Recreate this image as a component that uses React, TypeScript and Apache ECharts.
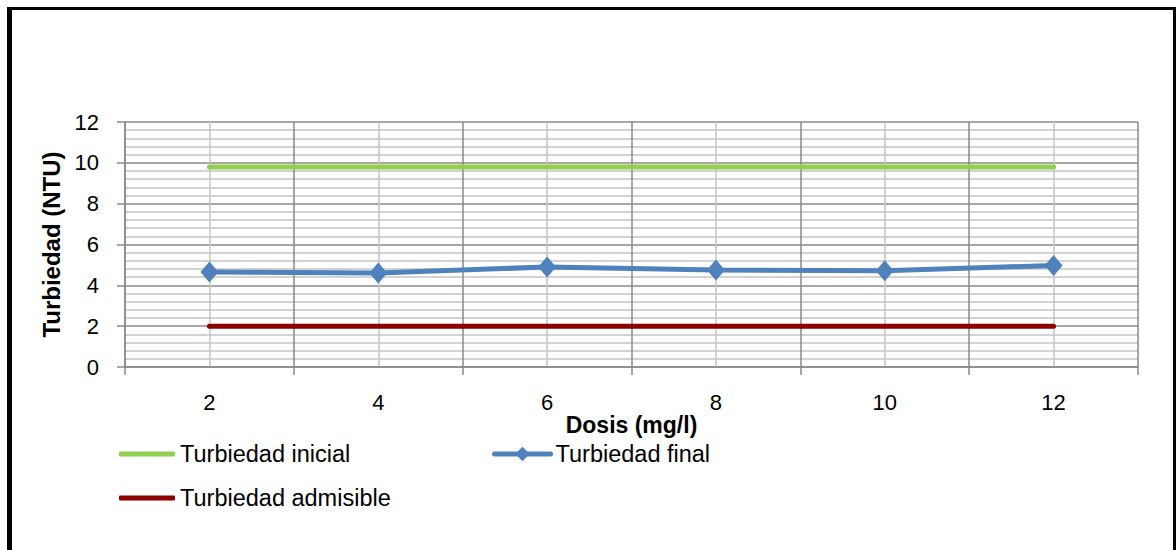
import React, { useEffect, useRef } from "react";
import * as echarts from "echarts";

const categories = ["2", "4", "6", "8", "10", "12"];
const turbiedadInicial = [9.8, 9.8, 9.8, 9.8, 9.8, 9.8];
const turbiedadFinal = [4.65, 4.6, 4.9, 4.75, 4.72, 4.97];
const turbiedadAdmisible = [2, 2, 2, 2, 2, 2];
const yTicks = { min: 0, max: 12, interval: 2 };

const FONT = "'Liberation Sans', Arial, sans-serif";
const MAJOR = "#8a8a8a";
const MINOR = "#c4c4c4";

export default function App() {
  const ref = useRef<HTMLDivElement>(null);
  useEffect(() => {
    if (!ref.current) return;
    const chart = echarts.init(ref.current, undefined, { renderer: "svg" });
    const legendText = { fontFamily: FONT, fontSize: 23.5, color: "#000" };
    chart.setOption({
      animation: false,
      backgroundColor: "#fff",
      graphic: [
        { type: "rect", shape: { x: 7, y: 7, width: 5, height: 543 }, style: { fill: "#000" } },
        { type: "rect", shape: { x: 7, y: 7, width: 1169, height: 3 }, style: { fill: "#000" } },
        { type: "rect", shape: { x: 1173, y: 7, width: 3, height: 543 }, style: { fill: "#000" } },
      ],
      grid: { left: 125, right: 38, top: 122, bottom: 183, containLabel: false },
      legend: [
        {
          data: [{ name: "Turbiedad inicial", icon: "roundRect" }], left: 119, top: 442, padding: 0,
          itemWidth: 56, itemHeight: 5, itemGap: 0, textStyle: legendText,
        },
        {
          data: ["Turbiedad final"], left: 492, top: 442, padding: 0,
          itemWidth: 56, itemHeight: 18, itemGap: 0, textStyle: legendText,
          lineStyle: { width: 5 },
        },
        {
          data: [{ name: "Turbiedad admisible", icon: "roundRect" }], left: 119, top: 486, padding: 0,
          itemWidth: 56, itemHeight: 5, itemGap: 0, textStyle: legendText,
        },
      ],
      xAxis: [
        {
          type: "category",
          data: categories,
          boundaryGap: true,
          name: "Dosis (mg/l)",
          nameLocation: "middle",
          nameGap: 41,
          nameTextStyle: { fontFamily: FONT, fontSize: 23, fontWeight: "bold", color: "#000" },
          axisLine: { lineStyle: { color: MAJOR, width: 1.5 } },
          axisTick: { show: true, interval: 0, alignWithLabel: false, length: 8, lineStyle: { color: MAJOR, width: 1.5 } },
          axisLabel: { fontFamily: FONT, fontSize: 22, color: "#000", margin: 24, interval: 0 },
          splitLine: { show: false },
          z: 3,
        },
        {
          type: "value",
          min: 1,
          max: 13,
          interval: 2,
          show: true,
          position: "bottom",
          axisLine: { show: false },
          axisTick: { show: false },
          axisLabel: { show: false },
          splitLine: { show: true, lineStyle: { color: MAJOR, width: 1.5 } },
          minorTick: { show: false, splitNumber: 2 },
          minorSplitLine: { show: true, lineStyle: { color: MINOR, width: 1.5 } },
        },
      ],
      yAxis: {
        type: "value",
        min: yTicks.min,
        max: yTicks.max,
        interval: yTicks.interval,
        name: "Turbiedad (NTU)",
        nameLocation: "middle",
        nameGap: 57,
        nameTextStyle: { fontFamily: FONT, fontSize: 24, fontWeight: "bold", color: "#000" },
        axisLine: { show: true, lineStyle: { color: MAJOR, width: 1.5 } },
        axisTick: { show: true, length: 8, lineStyle: { color: MAJOR, width: 1.5 } },
        axisLabel: { fontFamily: FONT, fontSize: 22, color: "#000", margin: 26 },
        splitLine: { show: true, lineStyle: { color: MAJOR, width: 1.5 } },
        minorTick: { show: false, splitNumber: 5 },
        minorSplitLine: { show: true, lineStyle: { color: MINOR, width: 1.5 } },
      },
      series: [
        {
          name: "Turbiedad inicial",
          type: "line",
          data: turbiedadInicial,
          symbol: "none",
          color: "#92d050",
          lineStyle: { color: "#92d050", width: 5, cap: "round" },
          z: 4,
        },
        {
          name: "Turbiedad final",
          type: "line",
          data: turbiedadFinal,
          symbol: "diamond",
          symbolSize: [18, 21],
          color: "#4f81bd",
          itemStyle: { color: "#4f81bd" },
          lineStyle: { color: "#4f81bd", width: 5, cap: "round" },
          z: 5,
        },
        {
          name: "Turbiedad admisible",
          type: "line",
          data: turbiedadAdmisible,
          symbol: "none",
          color: "#8b0000",
          lineStyle: { color: "#8b0000", width: 5, cap: "round" },
          z: 4,
        },
      ],
    });
    return () => chart.dispose();
  }, []);
  return (
    <div
      ref={ref}
      style={{ position: "absolute", left: 0, top: 0, width: 1176, height: 550 }}
    />
  );
}
